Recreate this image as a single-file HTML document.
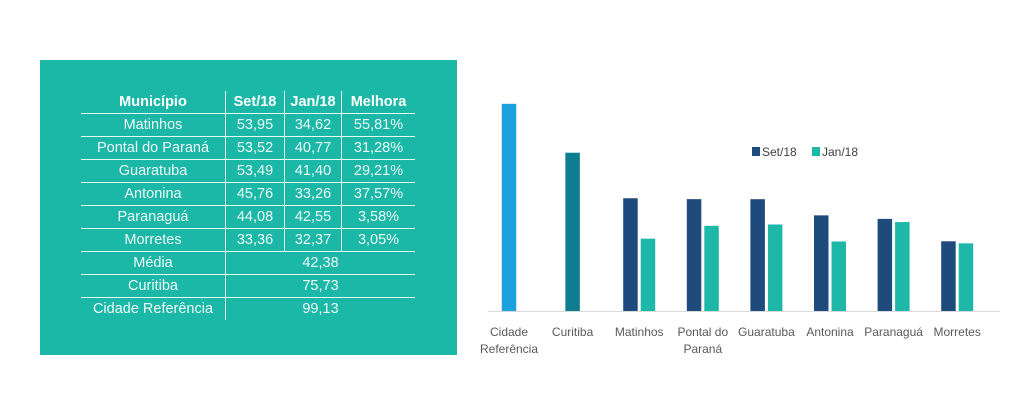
<!DOCTYPE html>
<html><head><meta charset="utf-8"><style>
body{margin:0;width:1024px;height:406px;background:#fff;font-family:"Liberation Sans",sans-serif;overflow:hidden;position:relative}
#panel{position:absolute;left:40px;top:60px;width:417px;height:295px;background:#1bb7a7}
table{position:absolute;left:41px;top:31px;border-collapse:collapse;color:#eefaf8;font-size:14.5px}
td,th{height:22px;padding:0;text-align:center;border-bottom:1px solid #e6f7f4;border-left:1px solid #e6f7f4}
th{font-weight:bold;color:#fff;border-bottom:1px solid #e6f7f4}
td:first-child,th:first-child{border-left:none}
tr:last-child td{border-bottom:none}
</style></head><body>
<div id="panel">
<table>
<tr><th style="width:144px">Município</th><th style="width:58px">Set/18</th><th style="width:56px">Jan/18</th><th style="width:73px">Melhora</th></tr>
<tr><td>Matinhos</td><td>53,95</td><td>34,62</td><td>55,81%</td></tr>
<tr><td>Pontal do Paraná</td><td>53,52</td><td>40,77</td><td>31,28%</td></tr>
<tr><td>Guaratuba</td><td>53,49</td><td>41,40</td><td>29,21%</td></tr>
<tr><td>Antonina</td><td>45,76</td><td>33,26</td><td>37,57%</td></tr>
<tr><td>Paranaguá</td><td>44,08</td><td>42,55</td><td>3,58%</td></tr>
<tr><td>Morretes</td><td>33,36</td><td>32,37</td><td>3,05%</td></tr>
<tr><td>Média</td><td colspan="3">42,38</td></tr>
<tr><td>Curitiba</td><td colspan="3">75,73</td></tr>
<tr><td>Cidade Referência</td><td colspan="3">99,13</td></tr>
</table></div>
<svg id="chart" width="1024" height="406" style="position:absolute;left:0;top:0"></svg>
<script>
const categories=["Cidade|Referência","Curitiba","Matinhos","Pontal do|Paraná","Guaratuba","Antonina","Paranaguá","Morretes"];
const setValues=[null,null,53.95,53.52,53.49,45.76,44.08,33.36];
const janValues=[null,null,34.62,40.77,41.40,33.26,42.55,32.37];
const singleValues=[99.13,75.73,null,null,null,null,null,null];
const singleColors=["#1ba1dd","#0e7d8f"];
const NS="http://www.w3.org/2000/svg";
const svg=document.getElementById('chart');
const baseY=311,scale=2.09,x0=509,step=63.6,bw=14.5;
const y=v=>baseY-v*scale;
const cx=i=>x0+i*step+(i>=2?3:0);
function mk(t,a){const e=document.createElementNS(NS,t);for(const k in a)e.setAttribute(k,a[k]);svg.appendChild(e);return e;}
categories.forEach((c,i)=>{
 if(singleValues[i]!=null){const r=mk('rect',{x:cx(i)-bw/2,y:y(singleValues[i]),width:bw,height:singleValues[i]*scale,fill:singleColors[i]});
 
 }
 if(setValues[i]!=null){const r=mk('rect',{x:cx(i)-bw-1.5,y:y(setValues[i]),width:bw,height:setValues[i]*scale,fill:"#1f4a7c"});
 
 }
 if(janValues[i]!=null){const r=mk('rect',{x:cx(i)+1.5,y:y(janValues[i]),width:bw,height:janValues[i]*scale,fill:"#1db8a8"});
 
 }
 c.split('|').forEach((ln,j)=>{const t=mk('text',{x:cx(i),y:336+j*17,'text-anchor':'middle','font-size':12,fill:'#595959'});t.textContent=ln;
 
 });
});
const ax=mk('line',{x1:488,x2:1000,y1:baseY+0.5,y2:baseY+0.5,stroke:'#d9d9d9'});


[["Set/18","#1f4a7c",752],["Jan/18","#1db8a8",812]].forEach(l=>{
 const r=mk('rect',{x:l[2],y:147,width:8,height:9,fill:l[1]});
 
 
 const t=mk('text',{x:l[2]+10,y:156,'font-size':12,fill:'#404040'});t.textContent=l[0];
 
 
});
</script>
</body></html>
